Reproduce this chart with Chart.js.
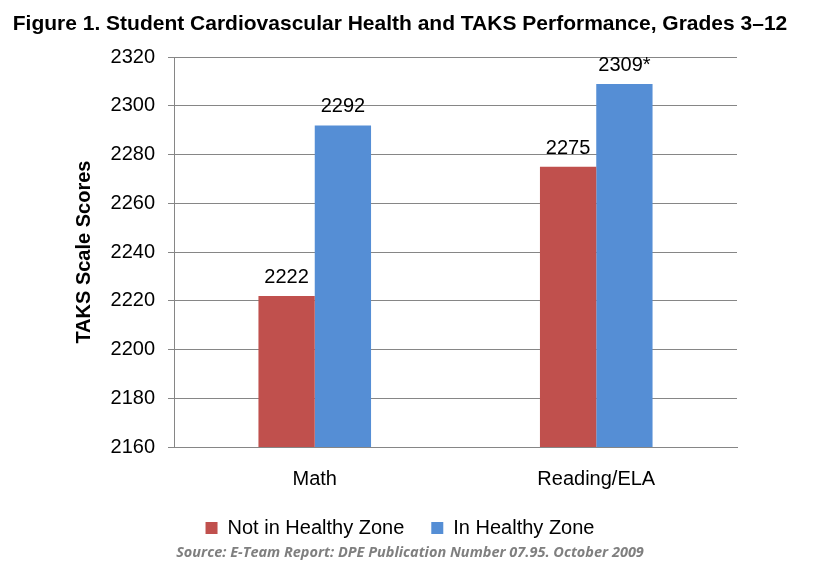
<!DOCTYPE html>
<html>
<head>
<meta charset="utf-8">
<title>Student Cardiovascular Health and TAKS Performance</title>
<script src="https://cdn.jsdelivr.net/npm/chart.js@4.4.1/dist/chart.umd.min.js"></script>
<style>
  html, body { margin: 0; padding: 0; background: #fff; }
  #wrap { width: 820px; height: 562px; }
</style>
</head>
<body>
<div id="wrap"><canvas id="chart" width="820" height="562"></canvas></div>
<script>
// Datos
const subjects = ['Math', 'Reading/ELA'];
const notHealthy = [2222, 2275];
const inHealthy = [2292, 2309];
const notHealthyMarks = ['', ''];
const inHealthyMarks = ['', '*'];   // 2309* = diferencia significativa
const seriesNames = ['Not in Healthy Zone', 'In Healthy Zone'];
const yMin = 2160, yMax = 2320, yStep = 20;

const titleText = 'Figure 1. Student Cardiovascular Health and TAKS Performance, Grades 3\u201312';
const sourceText = 'Source: E-Team Report: DPE Publication Number 07.95. October 2009';

const FONT = "'Liberation Sans', Arial, sans-serif";
const gridGray = '#868686';

// Etiquetas de valor encima de cada barra
const barLabels = {
  id: 'barLabels',
  afterDatasetsDraw(chart) {
    const ctx = chart.ctx;
    const marks = [notHealthyMarks, inHealthyMarks];
    ctx.save();
    ctx.font = '20px ' + FONT;
    ctx.fillStyle = '#000';
    ctx.textAlign = 'center';
    ctx.textBaseline = 'alphabetic';
    chart.data.datasets.forEach((ds, di) => {
      chart.getDatasetMeta(di).data.forEach((bar, i) => {
        ctx.fillText(ds.data[i] + marks[di][i], bar.x, bar.y - 13);
      });
    });
    ctx.restore();
  }
};

// Línea de fuente al pie
const sourceLine = {
  id: 'sourceLine',
  afterDraw(chart) {
    const ctx = chart.ctx;
    ctx.save();
    ctx.font = "italic bold 14.5px 'Open Sans', sans-serif";
    ctx.fillStyle = '#7f7f7f';
    ctx.textAlign = 'center';
    ctx.textBaseline = 'middle';
    ctx.fillText(sourceText, 410, 553);
    ctx.restore();
  }
};

new Chart(document.getElementById('chart'), {
  type: 'bar',
  data: {
    labels: subjects,
    datasets: [
      { label: seriesNames[0], data: notHealthy, backgroundColor: '#C0504D', categoryPercentage: 0.4, barPercentage: 1.0 },
      { label: seriesNames[1], data: inHealthy, backgroundColor: '#558ED5', categoryPercentage: 0.4, barPercentage: 1.0 }
    ]
  },
  options: {
    responsive: false,
    animation: false,
    layout: { padding: { left: 0, right: 20, top: 0, bottom: 14 } },
    plugins: {
      title: {
        display: true,
        text: titleText,
        color: '#000',
        font: { family: FONT, size: 21, weight: 'bold' },
        padding: { top: 12, bottom: 20 }
      },
      legend: {
        position: 'bottom',
        labels: {
          color: '#000',
          font: { family: FONT, size: 20 },
          boxWidth: 12,
          boxHeight: 12,
          padding: 27
        }
      },
      tooltip: { enabled: false }
    },
    scales: {
      x: {
        afterFit: s => { s.height = 44; },
        grid: { display: false, drawTicks: false },
        border: { display: true, color: gridGray },
        ticks: { color: '#000', font: { family: FONT, size: 20 }, padding: 20 }
      },
      y: {
        min: yMin,
        max: yMax,
        afterFit: s => { s.width = 174; },
        grid: { color: gridGray, tickLength: 6 },
        border: { display: true, color: gridGray },
        ticks: { stepSize: yStep, color: '#000', font: { family: FONT, size: 20 }, padding: 13, callback: v => String(v) },
        title: {
          display: true,
          text: 'TAKS Scale Scores',
          color: '#000',
          font: { family: FONT, size: 20, weight: 'bold' },
          padding: { top: 72, bottom: 0 }
        }
      },
      // eje vacío a la derecha: sólo reserva el margen del área de trazado
      yRight: {
        type: 'linear',
        position: 'right',
        display: true,
        afterFit: s => { s.width = 63; },
        grid: { display: false, drawTicks: false },
        border: { display: false },
        ticks: { display: false }
      }
    }
  },
  plugins: [barLabels, sourceLine]
});
</script>
</body>
</html>
